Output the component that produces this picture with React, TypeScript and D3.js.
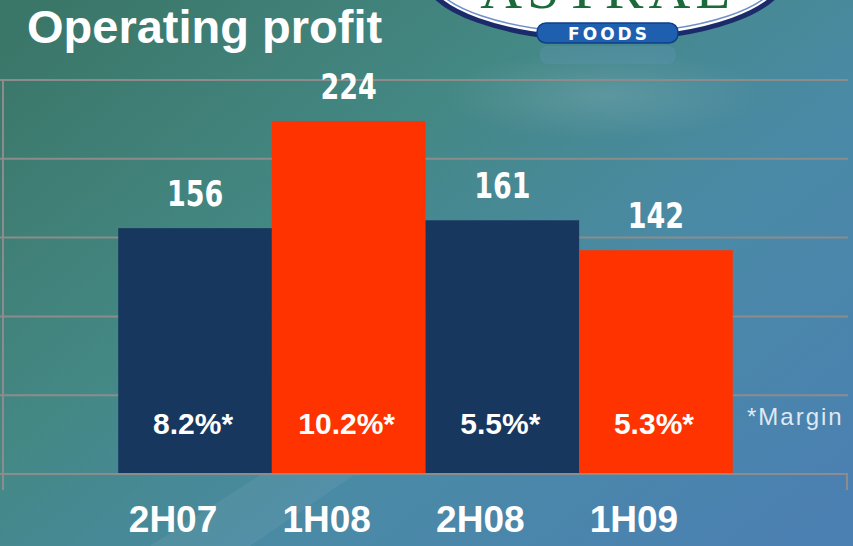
import React from "react";
import * as d3 from "d3";

const categories = ["2H07", "1H08", "2H08", "1H09"];
const profit = [156, 224, 161, 142];
const margins = ["8.2%*", "10.2%*", "5.5%*", "5.3%*"];
const barColors = ["#17375e", "#ff3300", "#17375e", "#ff3300"];
const gridTicks = [50, 100, 150, 200, 250];
const title = "Operating profit";
const footnote = "*Margin";

const W = 853;
const H = 546;

export default function App() {
  const x = d3.scaleBand<string>().domain(categories).range([3, 848]).paddingInner(0).paddingOuter(0.75);
  const y = d3.scaleLinear().domain([0, 250]).range([474, 80]);
  const base = y(0);

  return (
    <svg width={W} height={H} style={{ position: "absolute", left: 0, top: 0 }}>
      <defs>
        <linearGradient id="bg" x1="0" y1="0.1" x2="1" y2="0.9">
          <stop offset="0" stopColor="#3b7769" />
          <stop offset="0.35" stopColor="#448884" />
          <stop offset="0.65" stopColor="#4a8aa6" />
          <stop offset="1" stopColor="#4b80b2" />
        </linearGradient>
        <clipPath id="ovalClip">
          <ellipse cx={605} cy={-25} rx={180} ry={64} />
        </clipPath>
        <radialGradient id="refl" cx="0.5" cy="0.5" r="0.5">
          <stop offset="0" stopColor="#ffffff" stopOpacity="0.12" />
          <stop offset="1" stopColor="#ffffff" stopOpacity="0" />
        </radialGradient>
      </defs>
      <rect x={0} y={0} width={W} height={H} fill="url(#bg)" />
      <polygon points="150,546 330,430 420,430 250,546" fill="#ffffff" opacity={0.06} />

      {/* logo reflection */}
      <ellipse cx={605} cy={95} rx={160} ry={45} fill="url(#refl)" />
      <rect x={540} y={46} width={136} height={18} rx={8} fill="#5d93b0" opacity={0.4} />

      {/* logo */}
      <ellipse cx={605} cy={-25} rx={180} ry={64} fill="#ffffff" stroke="#1b2a6b" strokeWidth={5} />
      <ellipse cx={605} cy={-25} rx={174} ry={58} fill="none" stroke="#6f8fc8" strokeWidth={1.5} />
      <g clipPath="url(#ovalClip)">
        <text x={608} y={8} textAnchor="middle" fontFamily="Liberation Serif" fontSize={58} letterSpacing={5} fill="#1b6b3a">ASTRAL</text>
      </g>
      <rect x={537} y={23} width={141} height={20} rx={9} fill="#1f5fb0" stroke="#0f3f86" strokeWidth={1.5} />
      <text x={609} y={39.5} textAnchor="middle" fontFamily="DejaVu Sans" fontWeight="bold" fontSize={17} letterSpacing={3} fill="#ffffff">FOODS</text>

      {/* title */}
      <text x={27} y={43} fontFamily="Liberation Sans, Arial" fontWeight="bold" fontSize={47} fill="#ffffff">{title}</text>

      {/* gridlines */}
      {gridTicks.map((t) => (
        <line key={t} x1={0} x2={848} y1={y(t)} y2={y(t)} stroke="#8c8c8c" strokeWidth={2} />
      ))}

      {/* bars */}
      {categories.map((c, i) => (
        <rect key={c} x={x(c)!} y={y(profit[i])} width={x.bandwidth()} height={base - y(profit[i])} fill={barColors[i]} />
      ))}

      {/* axes */}
      <line x1={0} x2={848} y1={base} y2={base} stroke="#8c8c8c" strokeWidth={2} />
      <line x1={3} x2={3} y1={y(250) - 1} y2={490} stroke="#8c8c8c" strokeWidth={2} />
      <line x1={847} x2={847} y1={base} y2={490} stroke="#8c8c8c" strokeWidth={2} />

      {/* value labels */}
      {categories.map((c, i) => {
        const cx = x(c)! + x.bandwidth() / 2;
        const by = y(profit[i]) - 22;
        return (
          <text key={c} transform={`translate(${cx},${by}) scale(1,1.32)`} textAnchor="middle"
            fontFamily="DejaVu Sans" fontWeight="bold" fontSize={27} fill="#ffffff">{profit[i]}</text>
        );
      })}

      {/* margin labels */}
      {categories.map((c, i) => (
        <text key={c} x={x(c)! + x.bandwidth() / 2 - 2} y={434} textAnchor="middle"
          fontFamily="Liberation Sans, Arial" fontWeight="bold" fontSize={30} fill="#ffffff">{margins[i]}</text>
      ))}

      <text x={747} y={425} fontFamily="Liberation Sans, Arial" fontSize={24} letterSpacing={2} fill="#dfe9f1">{footnote}</text>

      {/* category labels */}
      {categories.map((c) => (
        <text key={c} x={x(c)! + x.bandwidth() / 2 - 22} y={532} textAnchor="middle"
          fontFamily="Liberation Sans, Arial" fontWeight="bold" fontSize={37} fill="#ffffff">{c}</text>
      ))}
    </svg>
  );
}
